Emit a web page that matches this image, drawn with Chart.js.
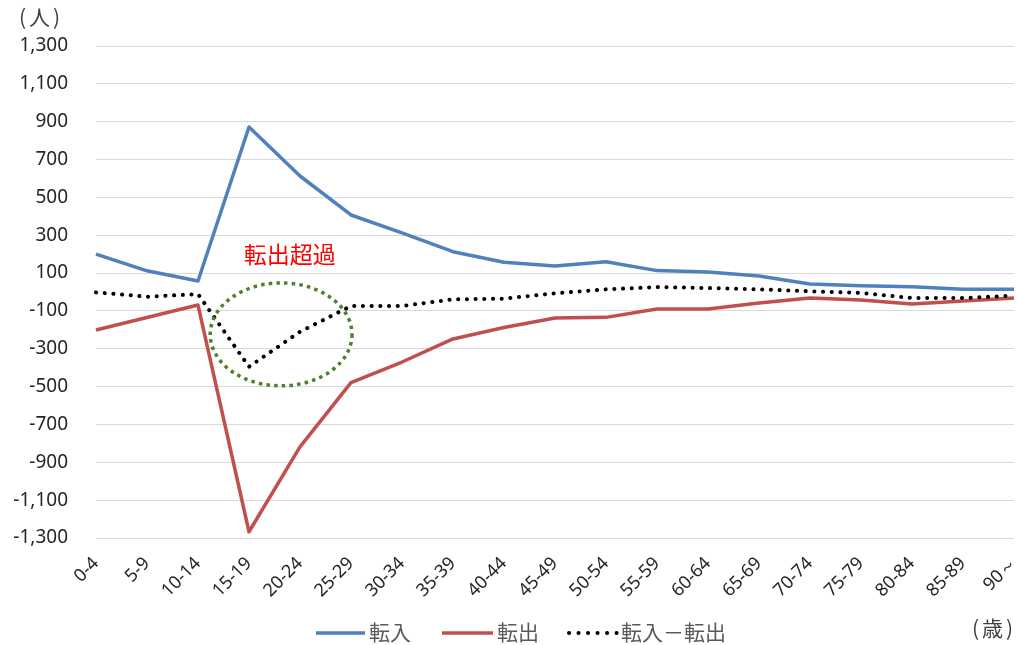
<!DOCTYPE html>
<html lang="ja">
<head>
<meta charset="utf-8">
<title>年齢階級別 転入・転出</title>
<script src="https://cdn.jsdelivr.net/npm/chart.js@4"></script>
<style>
  html, body { margin: 0; padding: 0; background: #ffffff; }
  #wrap { position: relative; width: 1017px; height: 645px; }
</style>
</head>
<body>
<div id="wrap"><canvas id="chart"></canvas></div>
<script>
// 年齢階級（5歳刻み）
const ageGroups = ['0-4', '5-9', '10-14', '15-19', '20-24', '25-29', '30-34', '35-39', '40-44',
  '45-49', '50-54', '55-59', '60-64', '65-69', '70-74', '75-79', '80-84', '85-89', '90～'];

// 転入者数（人）
const moveIn = [200, 112, 58, 872, 613, 407, 312, 213, 157, 137, 160, 113, 106, 85, 42, 33, 28, 14, 14];

// 転出者数（人、マイナス表示）
const moveOut = [-201, -135, -69, -1267, -818, -479, -370, -248, -188, -137, -134, -90, -90, -58, -32, -42, -63, -48, -32];

// 転入－転出（人）
const netMove = [-2, -25, -11, -395, -210, -74, -74, -39, -35, -7, 14, 26, 21, 14, 4, -5, -32, -32, -19];

// 縦軸の範囲と目盛間隔
const yMin = -1300;
const yMax = 1300;
const yStep = 200;

const seriesNames = ['転入', '転出', '転入－転出'];
const callout = '転出超過';

const jpFont = '"Noto Sans CJK JP", "Noto Sans", sans-serif';
const numFont = '"Noto Sans", "DejaVu Sans", sans-serif';

const BLUE = '#4F81BD';
const RED = '#C0504D';
const DOT = '#000000';
const GREEN = '#4F7F2C';

// 単位ラベル（括弧を少し離して描く）
function drawUnit(ctx, text, x, y) {
  ctx.font = '21px ' + jpFont;
  ctx.textAlign = 'left';
  ctx.textBaseline = 'middle';
  let cx = x;
  ['(', text, ')'].forEach((s, i) => {
    ctx.fillText(s, cx, y);
    cx += ctx.measureText(s).width + (i < 2 ? 3 : 0);
  });
}

// 凡例・単位・注記を描くプラグイン
const decorations = {
  id: 'decorations',
  afterDatasetsDraw(chart) {
    const { ctx } = chart;
    const xs = chart.scales.x;
    const ys = chart.scales.y;
    ctx.save();

    // 転出超過の区間を囲む点線の楕円
    const cx = xs.getPixelForValue(3.63);
    const rx = xs.getPixelForValue(3.63 + 1.39) - cx;
    const cy = ys.getPixelForValue(-224);
    const ry = ys.getPixelForValue(-224 - 272) - cy;
    ctx.beginPath();
    ctx.ellipse(cx, cy, rx, ry, 0, 0, Math.PI * 2);
    ctx.strokeStyle = GREEN;
    ctx.lineWidth = 3.5;
    ctx.setLineDash([3.5, 4.2]);
    ctx.lineCap = 'butt';
    ctx.stroke();
    ctx.setLineDash([]);

    // 注記
    ctx.fillStyle = '#FF0000';
    ctx.font = '23px ' + jpFont;
    ctx.textAlign = 'center';
    ctx.textBaseline = 'middle';
    ctx.fillText(callout, xs.getPixelForValue(3.8), ys.getPixelForValue(200));

    // 単位
    ctx.fillStyle = '#404040';
    drawUnit(ctx, '人', 19, 17);
    drawUnit(ctx, '歳', 972, 628);

    // 凡例
    const ly = 633;
    const items = [
      { x0: 316, x1: 365, color: BLUE, dotted: false, label: seriesNames[0] },
      { x0: 442, x1: 493, color: RED, dotted: false, label: seriesNames[1] },
      { x0: 569, x1: 617, color: DOT, dotted: true, label: seriesNames[2] }
    ];
    items.forEach(it => {
      ctx.beginPath();
      ctx.moveTo(it.x0, ly);
      ctx.lineTo(it.x1, ly);
      ctx.strokeStyle = it.color;
      if (it.dotted) {
        ctx.lineWidth = 4;
        ctx.lineCap = 'round';
        ctx.setLineDash([0.1, 9.4]);
      } else {
        ctx.lineWidth = 3.5;
        ctx.lineCap = 'butt';
        ctx.setLineDash([]);
      }
      ctx.stroke();
      ctx.setLineDash([]);
      ctx.fillStyle = '#595959';
      ctx.font = '21px ' + jpFont;
      ctx.textAlign = 'left';
      ctx.textBaseline = 'middle';
      ctx.fillText(it.label, it.x1 + 4, ly - 1);
    });

    ctx.restore();
  }
};

const ctx = document.getElementById('chart').getContext('2d');
new Chart(ctx, {
  type: 'line',
  data: {
    labels: ageGroups,
    datasets: [
      {
        label: seriesNames[0],
        data: moveIn,
        borderColor: BLUE,
        backgroundColor: BLUE,
        borderWidth: 3.5,
        pointRadius: 0,
        tension: 0,
        borderJoinStyle: 'round',
        order: 3
      },
      {
        label: seriesNames[1],
        data: moveOut,
        borderColor: RED,
        backgroundColor: RED,
        borderWidth: 3.5,
        pointRadius: 0,
        tension: 0,
        borderJoinStyle: 'round',
        order: 2
      },
      {
        label: seriesNames[2],
        data: netMove,
        borderColor: DOT,
        backgroundColor: DOT,
        borderWidth: 4,
        borderDash: [0.1, 8.6],
        borderCapStyle: 'round',
        pointRadius: 0,
        tension: 0,
        order: 1
      }
    ]
  },
  options: {
    responsive: true,
    maintainAspectRatio: false,
    animation: false,
    events: [],
    layout: { padding: { top: 46, left: 0, right: 3, bottom: 0 } },
    plugins: {
      legend: { display: false },
      tooltip: { enabled: false },
      title: { display: false }
    },
    scales: {
      x: {
        offset: false,
        grid: { display: false, drawTicks: false },
        border: { display: false },
        ticks: {
          autoSkip: false,
          maxRotation: 45,
          minRotation: 45,
          padding: 15,
          color: '#262626',
          font: { family: numFont, size: 18 }
        },
        afterFit(axis) {
          axis.height = 107;
          axis.paddingLeft = 0;
          axis.paddingRight = 0;
        }
      },
      y: {
        min: yMin,
        max: yMax,
        grid: { color: '#d9d9d9', lineWidth: 1, drawTicks: false },
        border: { display: false },
        ticks: {
          stepSize: yStep,
          padding: 28,
          color: '#262626',
          font: { family: numFont, size: 19 },
          callback: v => v.toLocaleString('en-US')
        },
        afterFit(axis) {
          axis.width = 96;
        }
      }
    }
  },
  plugins: [decorations]
});
</script>
</body>
</html>
